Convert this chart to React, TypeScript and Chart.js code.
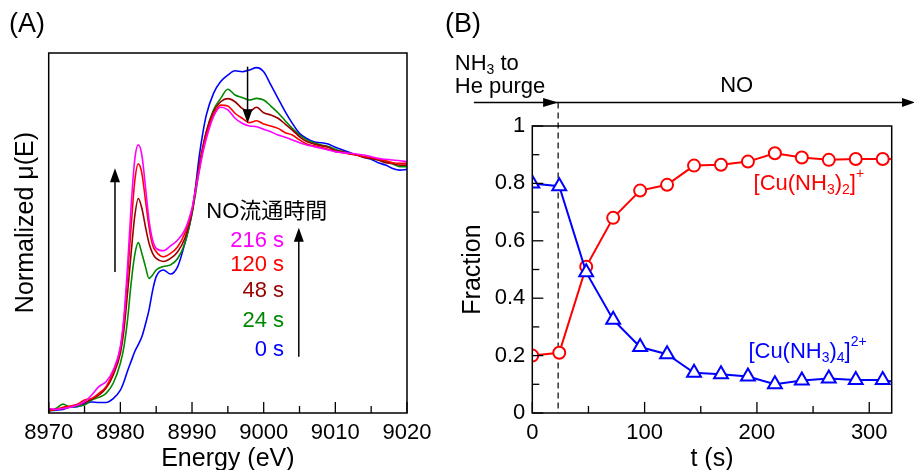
import React, { useEffect, useRef } from "react";
import { Chart, registerables } from "chart.js";

Chart.register(...registerables);

const FONT = "'Liberation Sans', Arial, 'Noto Sans CJK JP', sans-serif";

// ---------------- Panel A : Cu K-edge XANES ----------------
const energyEV = [
  8970, 8971, 8972, 8973, 8974, 8975, 8976, 8977, 8978, 8979, 8980,
  8980.5, 8981, 8981.5, 8982, 8982.5, 8983, 8983.5, 8984, 8984.5, 8985,
  8986, 8987, 8988, 8989, 8990,
  8990.5, 8991, 8991.5, 8992,
  8993, 8994, 8995, 8996, 8997, 8998, 8999, 9000, 9001, 9002, 9003, 9004, 9005, 9006,
  9007, 9008, 9009, 9010, 9011, 9012, 9013, 9014, 9015, 9016, 9017, 9018, 9019, 9020,
];
const mu0s = [
  0.010, 0.012, 0.015, 0.024, 0.026, 0.037, 0.046, 0.044, 0.044, 0.060, 0.095,
  0.13, 0.175, 0.215, 0.255, 0.285, 0.318, 0.37, 0.43, 0.51, 0.568,
  0.596, 0.579, 0.61, 0.707, 0.832,
  0.943, 1.068, 1.165, 1.242,
  1.332, 1.381, 1.408, 1.426, 1.422, 1.429, 1.439, 1.422, 1.367, 1.311, 1.256, 1.207, 1.165, 1.144,
  1.130, 1.126, 1.121, 1.107, 1.096, 1.085, 1.075, 1.065, 1.057, 1.043, 1.033, 1.019, 1.012, 1.015,
];
const mu24s = [
  0.006, 0.019, 0.037, 0.024, 0.029, 0.033, 0.054, 0.065, 0.082, 0.124, 0.207,
  0.276, 0.388, 0.54, 0.658, 0.71, 0.665, 0.61, 0.561, 0.575, 0.596,
  0.61, 0.617, 0.644, 0.707, 0.832,
  0.915, 1.013, 1.096, 1.172,
  1.263, 1.311, 1.349, 1.325, 1.315, 1.304, 1.311, 1.304, 1.279, 1.251, 1.218, 1.186, 1.158, 1.138,
  1.126, 1.117, 1.110, 1.099, 1.089, 1.082, 1.075, 1.068, 1.061, 1.054, 1.047, 1.038, 1.026, 1.026,
];
const mu48s = [
  0.010, 0.015, 0.019, 0.026, 0.033, 0.043, 0.057, 0.075, 0.103, 0.158, 0.249,
  0.346, 0.499, 0.665, 0.818, 0.894, 0.853, 0.776, 0.707, 0.665, 0.644,
  0.631, 0.644, 0.672, 0.728, 0.839,
  0.929, 1.033, 1.110, 1.172,
  1.256, 1.297, 1.310, 1.297, 1.269, 1.256, 1.274, 1.251, 1.242, 1.228, 1.204, 1.179, 1.151, 1.131,
  1.121, 1.114, 1.107, 1.093, 1.089, 1.079, 1.075, 1.065, 1.061, 1.054, 1.043, 1.040, 1.033, 1.033,
];
const mu120s = [
  0.012, 0.015, 0.024, 0.029, 0.037, 0.054, 0.061, 0.082, 0.110, 0.172, 0.269,
  0.388, 0.568, 0.776, 0.964, 1.038, 0.999, 0.888, 0.776, 0.700, 0.672,
  0.651, 0.665, 0.693, 0.749, 0.846,
  0.936, 1.019, 1.096, 1.158,
  1.242, 1.283, 1.279, 1.249, 1.228, 1.210, 1.218, 1.204, 1.196, 1.186, 1.168, 1.158, 1.138, 1.121,
  1.113, 1.107, 1.099, 1.089, 1.085, 1.079, 1.075, 1.068, 1.065, 1.057, 1.051, 1.043, 1.040, 1.040,
];
const mu216s = [
  0.019, 0.015, 0.019, 0.024, 0.033, 0.047, 0.075, 0.110, 0.130, 0.179, 0.276,
  0.401, 0.610, 0.860, 1.054, 1.117, 1.075, 0.943, 0.804, 0.721, 0.686,
  0.676, 0.696, 0.721, 0.763, 0.853,
  0.929, 1.006, 1.082, 1.144,
  1.235, 1.274, 1.263, 1.228, 1.207, 1.196, 1.193, 1.182, 1.172, 1.158, 1.149, 1.138, 1.126, 1.117,
  1.110, 1.103, 1.096, 1.089, 1.085, 1.082, 1.079, 1.075, 1.068, 1.061, 1.057, 1.054, 1.051, 1.047,
];
const spectraLabels = ["216 s", "120 s", "48 s", "24 s", "0 s"];
const spectraSeries = [mu216s, mu120s, mu48s, mu24s, mu0s];
const spectraColors = ["#ff00ff", "#ff0000", "#990000", "#008800", "#0000ff"];
const energyRange = [8970, 9020];
const energyStep = 10;

// ---------------- Panel B : fractions ----------------
const timeS = [0, 24, 48, 72, 96, 120, 144, 168, 192, 216, 240, 264, 288, 312, 336];
const fracCuNH32 = [0.20, 0.21, 0.51, 0.68, 0.775, 0.795, 0.862, 0.865, 0.876, 0.905, 0.89, 0.882, 0.885, 0.885, 0.885];
const fracCuNH34 = [0.80, 0.79, 0.49, 0.325, 0.23, 0.205, 0.14, 0.135, 0.127, 0.10, 0.113, 0.12, 0.115, 0.115, 0.10];
const measuredCount = 14;
const timeRange = [0, 320];
const timeStep = 100;
const fracRange = [0, 1];
const fracStep = 0.2;

type Part = [string, number];

function drawRich(ctx: CanvasRenderingContext2D, parts: Part[], x: number, y: number, color: string) {
  ctx.fillStyle = color;
  ctx.textAlign = "left";
  ctx.textBaseline = "alphabetic";
  let cx = x;
  for (const [t, k] of parts) {
    ctx.font = `${k ? 14 : 22}px ${FONT}`;
    const dy = k === 1 ? 4 : k === 2 ? -12 : 0;
    ctx.fillText(t, cx, y + dy);
    cx += ctx.measureText(t).width;
  }
}

function arrowHead(ctx: CanvasRenderingContext2D, tx: number, ty: number, ang: number, len: number, half: number) {
  const bx = tx - Math.cos(ang) * len;
  const by = ty - Math.sin(ang) * len;
  ctx.beginPath();
  ctx.moveTo(tx, ty);
  ctx.lineTo(bx + Math.sin(ang) * half, by - Math.cos(ang) * half);
  ctx.lineTo(bx - Math.sin(ang) * half, by + Math.cos(ang) * half);
  ctx.closePath();
  ctx.fill();
}

function arrow(ctx: CanvasRenderingContext2D, x1: number, y1: number, x2: number, y2: number, len = 14, half = 5) {
  const ang = Math.atan2(y2 - y1, x2 - x1);
  ctx.beginPath();
  ctx.moveTo(x1, y1);
  ctx.lineTo(x2 - Math.cos(ang) * (len - 1), y2 - Math.sin(ang) * (len - 1));
  ctx.stroke();
  arrowHead(ctx, x2, y2, ang, len, half);
}

// annotation anchors (data coordinates)
const arrowsA = [
  { e: 8979.25, from: 0.5875, to: 1.02 },
  { e: 8997.75, from: 1.443, to: 1.207 },
  { e: 9004.9, from: 0.2346, to: 0.772 },
];
const headingA = { e: 8992.0, y: 0.8375 };
const timeLabelAnchor = { e: 9002.85, y: [0.719, 0.615, 0.51, 0.385, 0.2646] };

const dashT = 23;
const flowArrowY = 1.082;
const flowArrowStartT = -52;
const flowArrowEndT = 340.8;

const panelAPlugin = {
  id: "panelA",
  afterDraw(chart: any) {
    const { ctx, chartArea: a, scales } = chart;
    const x = scales.x, y = scales.y;
    ctx.save();
    ctx.strokeStyle = "#000";
    ctx.fillStyle = "#000";
    ctx.lineWidth = 1.5;
    ctx.strokeRect(a.left, a.top, a.right - a.left, a.bottom - a.top);
    ctx.lineWidth = 1.3;
    for (let v = x.min; v <= x.max + 1e-6; v += energyStep / 2) {
      const px = x.getPixelForValue(v);
      const len = Math.round(v - x.min) % energyStep === 0 ? 11 : 7;
      ctx.beginPath();
      ctx.moveTo(px, a.bottom);
      ctx.lineTo(px, a.bottom - len);
      ctx.stroke();
    }
    ctx.lineWidth = 1.5;
    for (const ar of arrowsA) {
      const px = x.getPixelForValue(ar.e);
      arrow(ctx, px, y.getPixelForValue(ar.from), px, y.getPixelForValue(ar.to), 14, 5);
    }
    ctx.font = `22px ${FONT}`;
    ctx.textBaseline = "middle";
    ctx.textAlign = "left";
    ctx.fillStyle = "#000";
    ctx.fillText("NO流通時間", x.getPixelForValue(headingA.e), y.getPixelForValue(headingA.y));
    ctx.textAlign = "right";
    spectraLabels.forEach((lab, i) => {
      ctx.fillStyle = spectraColors[i];
      ctx.fillText(lab, x.getPixelForValue(timeLabelAnchor.e), y.getPixelForValue(timeLabelAnchor.y[i]));
    });
    ctx.fillStyle = "#000";
    ctx.textAlign = "left";
    ctx.font = `27px ${FONT}`;
    ctx.fillText("(A)", 9, 25);
    ctx.restore();
  },
};

const panelBPlugin = {
  id: "panelB",
  beforeDatasetsDraw(chart: any) {
    const { ctx, scales } = chart;
    const x = scales.x, y = scales.y;
    ctx.save();
    ctx.strokeStyle = "#000";
    ctx.lineWidth = 1.2;
    ctx.setLineDash([6, 4]);
    const px = x.getPixelForValue(dashT);
    ctx.beginPath();
    ctx.moveTo(px, y.getPixelForValue(flowArrowY));
    ctx.lineTo(px, y.getPixelForValue(0));
    ctx.stroke();
    ctx.restore();
  },
  afterDraw(chart: any) {
    const { ctx, chartArea: a, scales } = chart;
    const x = scales.x, y = scales.y;
    ctx.save();
    ctx.strokeStyle = "#000";
    ctx.fillStyle = "#000";
    ctx.lineWidth = 1.5;
    ctx.strokeRect(a.left, a.top, a.right - a.left, a.bottom - a.top);
    ctx.lineWidth = 1.3;
    for (let v = x.min; v <= x.max + 1e-6; v += timeStep / 2) {
      const px = x.getPixelForValue(v);
      const len = Math.round(v) % timeStep === 0 ? 11 : 7;
      ctx.beginPath();
      ctx.moveTo(px, a.bottom);
      ctx.lineTo(px, a.bottom - len);
      ctx.stroke();
    }
    for (let k = 0; k <= Math.round((y.max - y.min) / (fracStep / 2)); k++) {
      const v = y.min + k * (fracStep / 2);
      const py = y.getPixelForValue(v);
      const len = k % 2 === 0 ? 11 : 7;
      ctx.beginPath();
      ctx.moveTo(a.left, py);
      ctx.lineTo(a.left + len, py);
      ctx.stroke();
    }
    // flow arrow
    const ay = y.getPixelForValue(flowArrowY);
    ctx.lineWidth = 1.5;
    ctx.beginPath();
    ctx.moveTo(x.getPixelForValue(flowArrowStartT), ay);
    ctx.lineTo(x.getPixelForValue(flowArrowEndT) - 4, ay);
    ctx.stroke();
    arrowHead(ctx, x.getPixelForValue(dashT), ay, 0, 15, 4.5);
    arrowHead(ctx, x.getPixelForValue(flowArrowEndT), ay, 0, 13, 4.5);
    // texts
    drawRich(ctx, [["NH", 0], ["3", 1], [" to", 0]], x.getPixelForValue(-69), y.getPixelForValue(1.195), "#000");
    drawRich(ctx, [["He purge", 0]], x.getPixelForValue(-69), y.getPixelForValue(1.114), "#000");
    ctx.font = `22px ${FONT}`;
    ctx.textAlign = "center";
    ctx.fillText("NO", x.getPixelForValue(182), y.getPixelForValue(1.117));
    drawRich(ctx, [["[Cu(NH", 0], ["3", 1], [")", 0], ["2", 1], ["]", 0], ["+", 2]], x.getPixelForValue(197), y.getPixelForValue(0.777), "#ff0000");
    drawRich(ctx, [["[Cu(NH", 0], ["3", 1], [")", 0], ["4", 1], ["]", 0], ["2+", 2]], x.getPixelForValue(192.4), y.getPixelForValue(0.1916), "#0000ff");
    ctx.fillStyle = "#000";
    ctx.textAlign = "left";
    ctx.textBaseline = "middle";
    ctx.font = `27px ${FONT}`;
    ctx.fillText("(B)", 5, 25);
    ctx.restore();
  },
};

export default function App() {
  const refA = useRef<HTMLCanvasElement>(null);
  const refB = useRef<HTMLCanvasElement>(null);

  useEffect(() => {
    Chart.defaults.font.family = FONT;
    Chart.defaults.color = "#000";

    const chartA = new Chart(refA.current as HTMLCanvasElement, {
      type: "line",
      data: {
        datasets: spectraSeries.map((s, i) => ({
          label: spectraLabels[i],
          data: energyEV.map((e, j) => ({ x: e, y: s[j] })),
          borderColor: spectraColors[i],
          borderWidth: 1.6,
          pointRadius: 0,
          cubicInterpolationMode: "monotone" as const,
          fill: false,
        })),
      },
      options: {
        responsive: false,
        animation: false,
        devicePixelRatio: 1,
        events: [],
        layout: { padding: { left: 0, right: 33, top: 53, bottom: 0 } },
        plugins: { legend: { display: false }, tooltip: { enabled: false } },
        scales: {
          x: {
            type: "linear",
            min: energyRange[0],
            max: energyRange[1],
            grid: { display: false, drawTicks: false },
            border: { display: false },
            ticks: { stepSize: energyStep, padding: 7, font: { size: 22 }, color: "#000", callback: (v: any) => String(v) },
            title: { display: true, text: "Energy (eV)", font: { size: 25, lineHeight: 0.84 }, padding: 0, color: "#000" },
            afterFit: (s: any) => { s.height = 57; },
          },
          y: {
            type: "linear",
            min: 0,
            max: 1.5,
            grid: { display: false, drawTicks: false },
            border: { display: false },
            ticks: { display: false },
            title: { display: true, text: "   Normalized μ(E)", font: { size: 25 }, padding: { top: 11.5, bottom: 0 }, color: "#000" },
            afterFit: (s: any) => { s.width = 48.7; },
          },
        },
      },
      plugins: [panelAPlugin],
    } as any);

    const chartB = new Chart(refB.current as HTMLCanvasElement, {
      type: "line",
      data: {
        datasets: [
          {
            label: "[Cu(NH3)4]2+",
            data: timeS.map((t, i) => ({ x: t, y: fracCuNH34[i] })),
            borderColor: "#0000ff",
            borderWidth: 2,
            pointStyle: "triangle",
            pointRadius: (c: any) => (c.dataIndex < measuredCount ? 8 : 0),
            pointBorderWidth: 2,
            pointBorderColor: "#0000ff",
            pointBackgroundColor: "#ffffff",
            tension: 0,
          },
          {
            label: "[Cu(NH3)2]+",
            data: timeS.map((t, i) => ({ x: t, y: fracCuNH32[i] })),
            borderColor: "#ff0000",
            borderWidth: 2,
            pointStyle: "circle",
            pointRadius: (c: any) => (c.dataIndex < measuredCount ? 6 : 0),
            pointBorderWidth: 2,
            pointBorderColor: "#ff0000",
            pointBackgroundColor: "#ffffff",
            tension: 0,
          },
        ],
      },
      options: {
        responsive: false,
        animation: false,
        devicePixelRatio: 1,
        events: [],
        layout: { padding: { left: 0, right: 22.3, top: 126, bottom: 0 } },
        plugins: { legend: { display: false }, tooltip: { enabled: false } },
        scales: {
          x: {
            type: "linear",
            min: timeRange[0],
            max: timeRange[1],
            grid: { display: false, drawTicks: false },
            border: { display: false },
            ticks: { stepSize: timeStep, includeBounds: false, padding: 7, font: { size: 22 }, color: "#000", callback: (v: any) => String(v) },
            title: { display: true, text: "t (s)", font: { size: 25, lineHeight: 0.84 }, padding: 0, color: "#000" },
            afterFit: (s: any) => { s.height = 57; },
          },
          y: {
            type: "linear",
            min: fracRange[0],
            max: fracRange[1],
            grid: { display: false, drawTicks: false },
            border: { display: false },
            ticks: { stepSize: fracStep, padding: 7, font: { size: 22 }, color: "#000", callback: (v: any) => String(Math.round(v * 10) / 10) },
            title: { display: true, text: "Fraction", font: { size: 25 }, padding: { top: 18, bottom: 0 }, color: "#000" },
            afterFit: (s: any) => { s.width = 92.3; },
          },
        },
      },
      plugins: [panelBPlugin],
    } as any);

    return () => {
      chartA.destroy();
      chartB.destroy();
    };
  }, []);

  return (
    <div style={{ position: "fixed", left: 0, top: 0, width: 914, height: 470, background: "#fff", overflow: "hidden" }}>
      <canvas ref={refA} width={440} height={470} style={{ position: "absolute", left: 0, top: 0, width: 440, height: 470 }} />
      <canvas ref={refB} width={474} height={470} style={{ position: "absolute", left: 440, top: 0, width: 474, height: 470 }} />
    </div>
  );
}
